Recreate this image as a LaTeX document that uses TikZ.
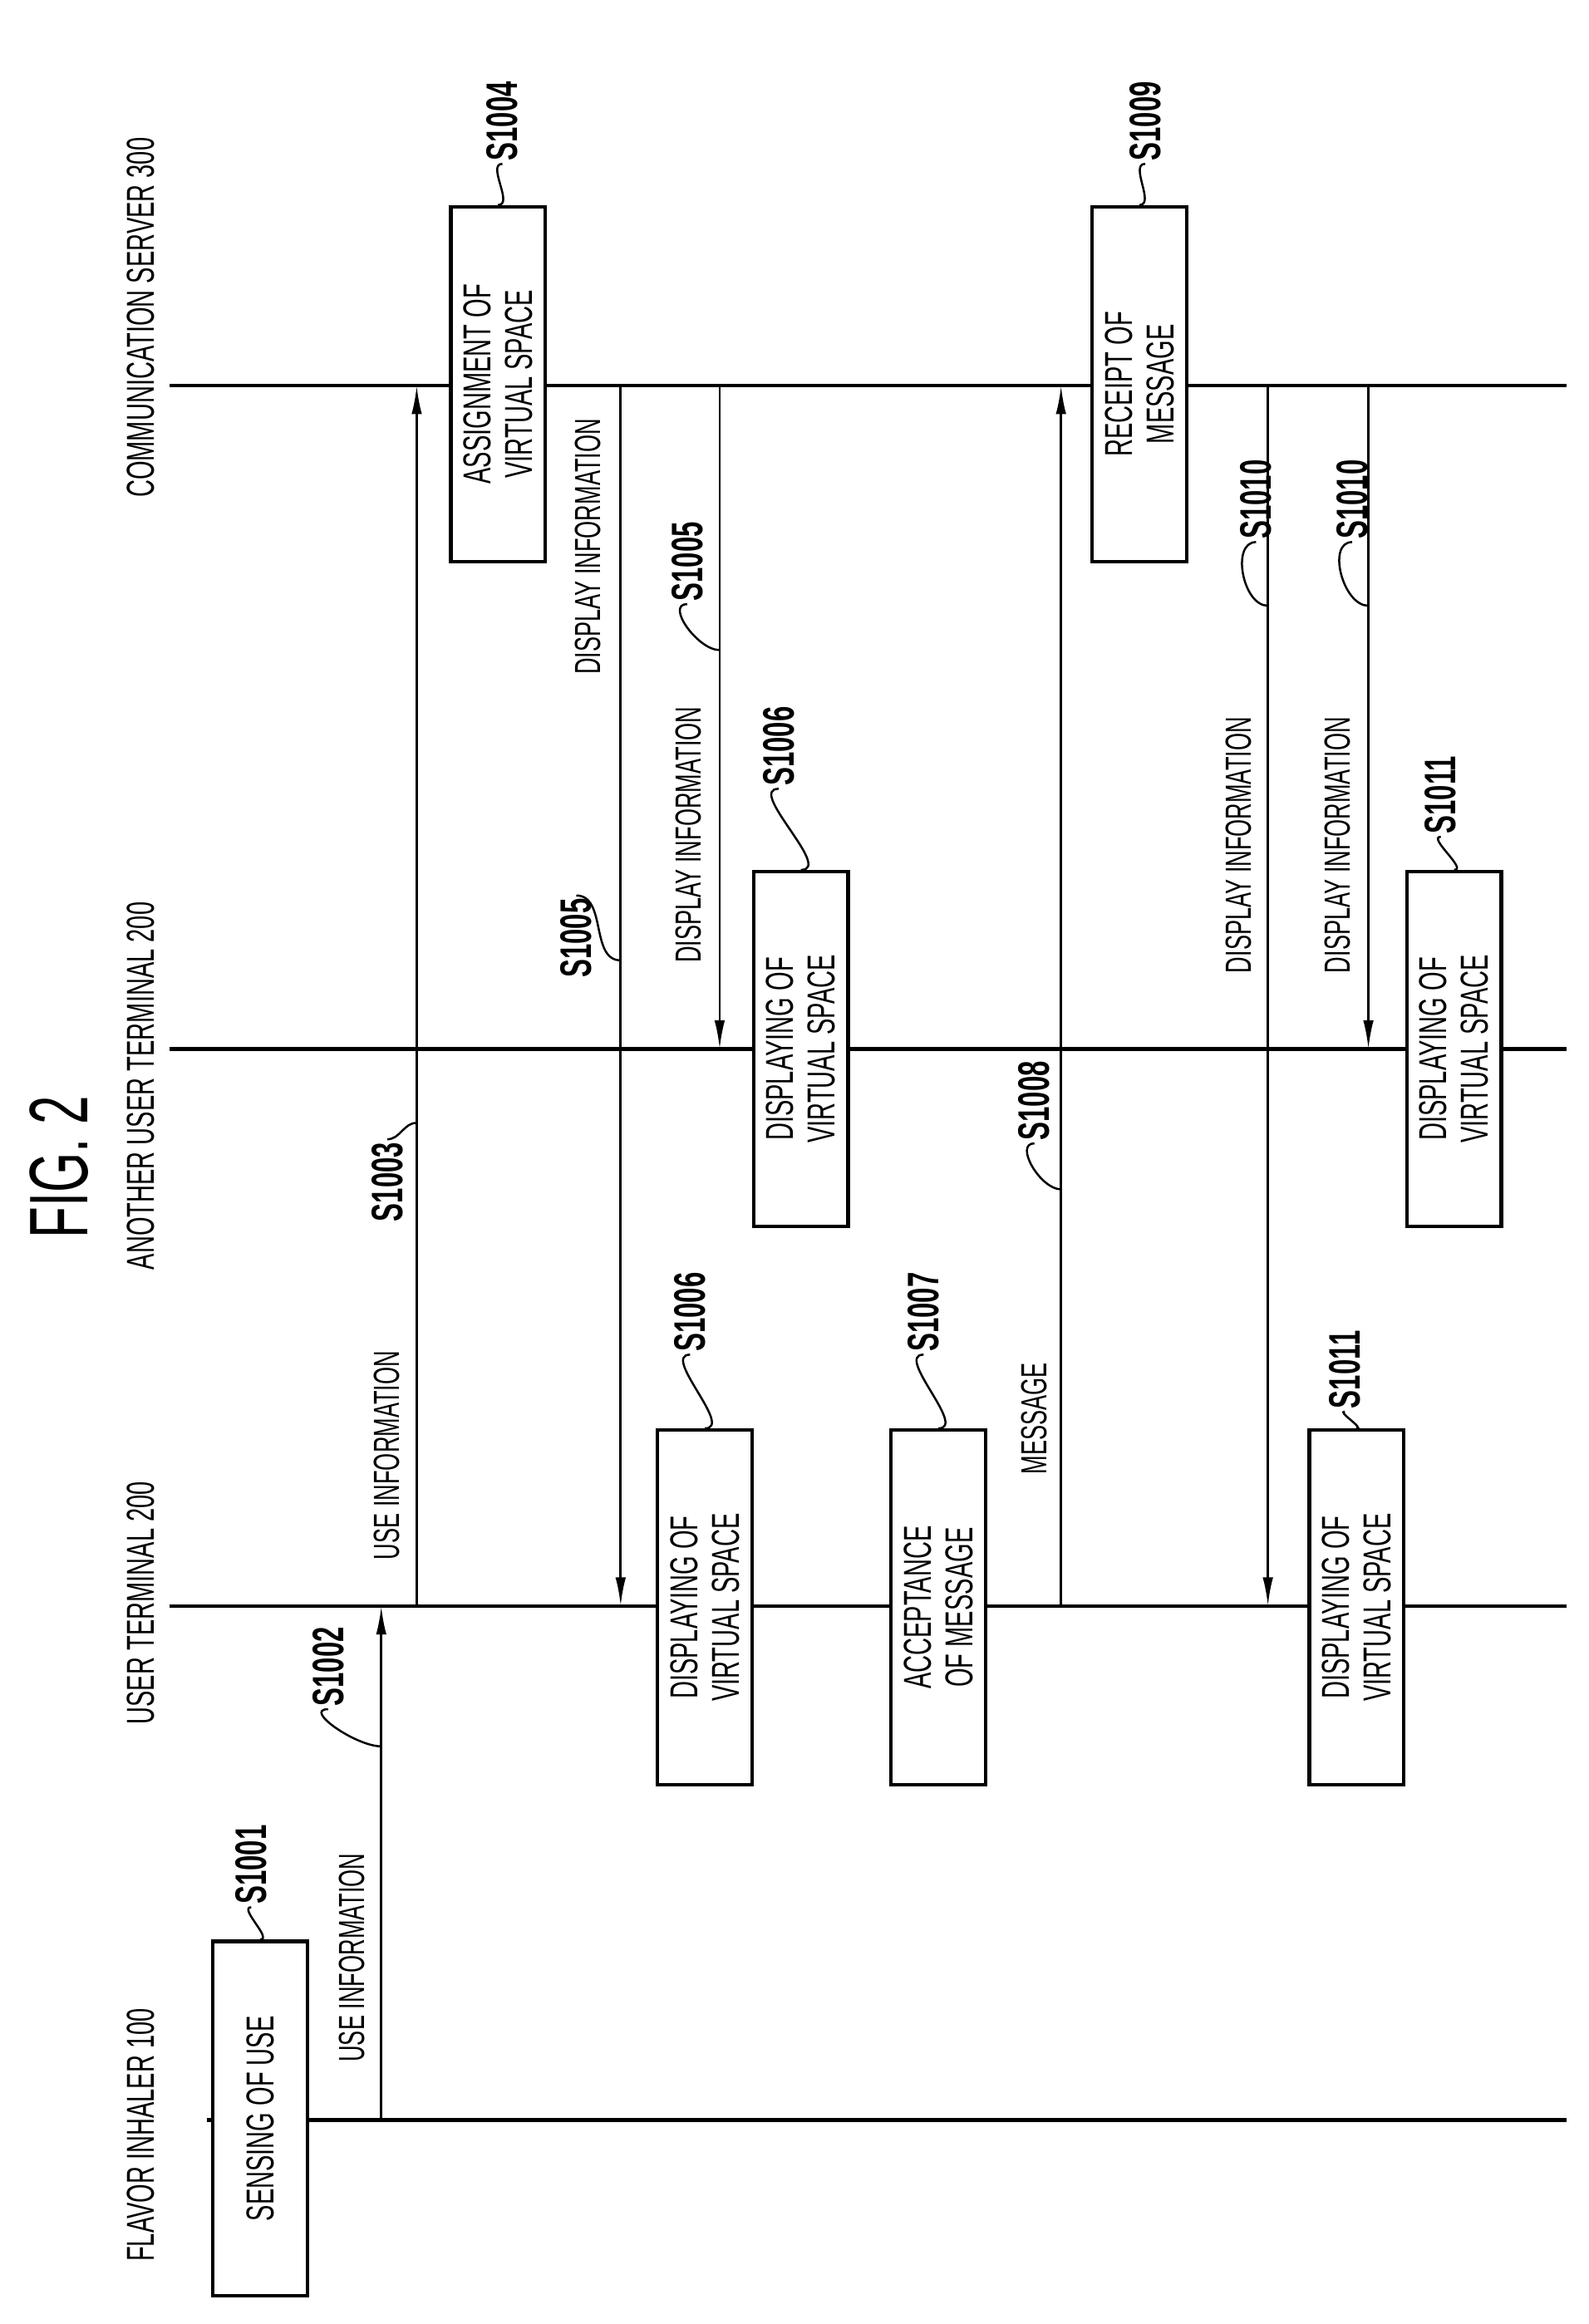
\documentclass[tikz,border=0pt]{standalone}
\usepackage{fontspec}
\setsansfont{Liberation Sans}[FakeStretch=0.62]
\usetikzlibrary{arrows.meta}
\tikzset{
  life/.style={line width=1.5pt},
  msg/.style={line width=0.9pt,-{Latex[length=11pt,width=4pt]}},
  act/.style={draw,line width=1.4pt,fill=white,rotate=90,minimum width=240*0.02cm,
    minimum height=64*0.02cm,align=center,font=\sffamily\fontsize{15}{16}\selectfont},
  who/.style={rotate=90,font=\sffamily\fontsize{15}{16}\selectfont},
  what/.style={rotate=90,font=\sffamily\fontsize{14}{15}\selectfont},
  stepno/.style={rotate=90,inner sep=1pt,font=\sffamily\bfseries\fontsize{17}{18}\selectfont},
  lead/.style={line width=0.8pt}
}
\begin{document}
\begin{tikzpicture}[x=0.02cm,y=-0.02cm]
    \useasboundingbox (0,0) rectangle (1075,1573);
    \node[rotate=90,font=\sffamily\fontsize{32}{34}\selectfont] (fig) at (40,790) {FIG. 2};

    % Lifelines
    \draw[life] (140,1435) coordinate (fa) -- (1060,1435) coordinate (fb);
    \draw[life] (115,1087) coordinate (ua) -- (1060,1087) coordinate (ub);
    \draw[life] (115,710) coordinate (aa) -- (1060,710) coordinate (ab);
    \draw[life] (115,261) coordinate (ca) -- (1060,261) coordinate (cb);
    \node[who] (lf) at (95,1445) {FLAVOR INHALER 100};
    \node[who] (lu) at (95,1085) {USER TERMINAL 200};
    \node[who] (la) at (95,735) {ANOTHER USER TERMINAL 200};
    \node[who] (lc) at (95,215) {COMMUNICATION SERVER 300};

    % Activities
    \node[act] (sense) at (176,1434) {SENSING OF USE};
    \node[act] (disu1) at (477,1088) {DISPLAYING OF\\VIRTUAL SPACE};
    \node[act] (acc) at (635,1088) {ACCEPTANCE\\OF MESSAGE};
    \node[act] (disu2) at (918,1088) {DISPLAYING OF\\VIRTUAL SPACE};
    \node[act] (assign) at (337,260) {ASSIGNMENT OF\\VIRTUAL SPACE};
    \node[act] (disa1) at (542,710) {DISPLAYING OF\\VIRTUAL SPACE};
    \node[act] (disa2) at (984,710) {DISPLAYING OF\\VIRTUAL SPACE};
    \node[act] (recv) at (771,260) {RECEIPT OF\\MESSAGE};

    % Messages
    \coordinate (m1a) at (258,1435); \coordinate (m1b) at (258,1087);
    \coordinate (m2a) at (282,1087); \coordinate (m2b) at (282,261);
    \coordinate (m3a) at (420,261);  \coordinate (m3b) at (420,1087);
    \coordinate (m4a) at (487,261);  \coordinate (m4b) at (487,710);
    \coordinate (m5a) at (718,1087); \coordinate (m5b) at (718,261);
    \coordinate (m6a) at (858,261);  \coordinate (m6b) at (858,1087);
    \coordinate (m7a) at (926,261);  \coordinate (m7b) at (926,710);
    \draw[msg] (m1a) -- (m1b);
    \draw[msg] (m2a) -- (m2b);
    \draw[msg] (m3a) -- (m3b);
    \draw[msg] (m4a) -- (m4b);
    \draw[msg] (m5a) -- (m5b);
    \draw[msg] (m6a) -- (m6b);
    \draw[msg] (m7a) -- (m7b);
    \node[what] (t1) at (238,1325) {USE INFORMATION};
    \node[what] (t2) at (262,985) {USE INFORMATION};
    \node[what] (t3) at (398,370) {DISPLAY INFORMATION};
    \node[what] (t4) at (466,565) {DISPLAY INFORMATION};
    \node[what] (t5) at (700,960) {MESSAGE};
    \node[what] (t6) at (838,572) {DISPLAY INFORMATION};
    \node[what] (t7) at (905,572) {DISPLAY INFORMATION};

    % Step numbers
    \node[stepno] (s1001) at (170,1262) {S1001};
    \node[stepno] (s1002) at (222,1128) {S1002};
    \node[stepno] (s1003) at (262,800) {S1003};
    \node[stepno] (s1004) at (340,82) {S1004};
    \node[stepno] (s1005a) at (390,635) {S1005};
    \node[stepno] (s1005b) at (465,380) {S1005};
    \node[stepno] (s1006a) at (527,505) {S1006};
    \node[stepno] (s1006b) at (467,888) {S1006};
    \node[stepno] (s1007) at (625,888) {S1007};
    \node[stepno] (s1008) at (700,745) {S1008};
    \node[stepno] (s1009) at (775,82) {S1009};
    \node[stepno] (s1010a) at (850,338) {S1010};
    \node[stepno] (s1010b) at (915,338) {S1010};
    \node[stepno] (s1011a) at (975,538) {S1011};
    \node[stepno] (s1011b) at (910,927) {S1011};
    \draw[lead] (s1001.west) to[out=180,in=0] (sense.east);
    \draw[lead] (s1002.west) to[out=180,in=180] (258,1182);
    \draw[lead] (s1003.east) to[out=0,in=180] (282,760);
    \draw[lead] (s1004.west) to[out=180,in=0] (assign.east);
    \draw[lead] (s1005a.east) to[out=0,in=180] (420,650);
    \draw[lead] (s1005b.west) to[out=180,in=180] (487,440);
    \draw[lead] (s1006a.west) to[out=180,in=0] (disa1.east);
    \draw[lead] (s1006b.west) to[out=180,in=0] (disu1.east);
    \draw[lead] (s1007.west) to[out=180,in=0] (acc.east);
    \draw[lead] (s1008.west) to[out=180,in=180] (718,805);
    \draw[lead] (s1009.west) to[out=180,in=0] (recv.east);
    \draw[lead] (s1010a.west) to[out=180,in=180] (858,410);
    \draw[lead] (s1010b.west) to[out=180,in=180] (926,410);
    \draw[lead] (s1011a.west) to[out=180,in=0] (disa2.east);
    \draw[lead] (s1011b.west) to[out=180,in=0] (disu2.east);
\end{tikzpicture}
\end{document}
